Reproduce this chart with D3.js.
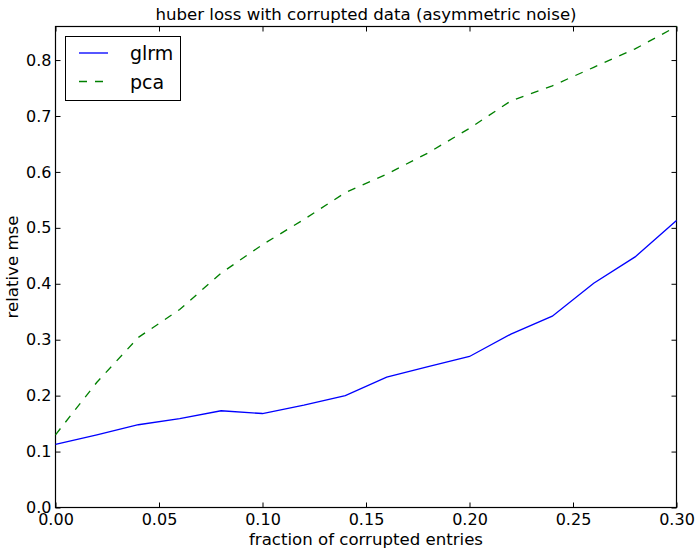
<!DOCTYPE html>
<html>
<head>
<meta charset="utf-8">
<script src="https://cdn.jsdelivr.net/npm/d3@7"></script>
<style>
  body { margin: 0; background: #fff; }
  text { font-family: "DejaVu Sans", sans-serif; fill: #000; }
</style>
</head>
<body>
<svg id="chart" width="699" height="549"></svg>
<script>
// dane
let fractions = [0, 0.02, 0.04, 0.06, 0.08, 0.10, 0.12, 0.14, 0.16, 0.18, 0.20, 0.22, 0.24, 0.26, 0.28, 0.30];
let glrm = [0.113, 0.130, 0.148, 0.159, 0.173, 0.168, 0.183, 0.200, 0.233, 0.252, 0.270, 0.310, 0.342, 0.401, 0.448, 0.513];
let pca = [0.130, 0.224, 0.304, 0.354, 0.419, 0.470, 0.515, 0.563, 0.596, 0.634, 0.678, 0.727, 0.754, 0.787, 0.820, 0.860];
let xTicks = [0, 0.05, 0.10, 0.15, 0.20, 0.25, 0.30];
let yTicks = [0, 0.1, 0.2, 0.3, 0.4, 0.5, 0.6, 0.7, 0.8];

// marginesy obszaru wykresu
let pLeft = 55.5, pRight = 676.5, pTop = 26.5, pBottom = 507.5;
let svg = d3.select("#chart");

let x = d3.scaleLinear().domain([0, 0.30]).range([pLeft, pRight]);
let y = d3.scaleLinear().domain([0, d3.max(pca)]).range([pBottom, pTop]);

// osie - tiki do środka jak w matplotlib
svg.append("g").attr("transform", "translate(0," + pBottom + ")")
    .call(d3.axisBottom(x).tickValues(xTicks).tickFormat(d3.format(".2f")).tickSizeInner(-5).tickSizeOuter(0).tickPadding(6))
svg.append("g").attr("transform", "translate(0," + pTop + ")")
    .call(d3.axisTop(x).tickValues(xTicks).tickFormat("").tickSizeInner(-5).tickSizeOuter(0))
svg.append("g").attr("transform", "translate(" + pLeft + ",0)")
    .call(d3.axisLeft(y).tickValues(yTicks).tickFormat(d3.format(".1f")).tickSizeInner(-5).tickSizeOuter(0).tickPadding(4))
svg.append("g").attr("transform", "translate(" + pRight + ",0)")
    .call(d3.axisRight(y).tickValues(yTicks).tickFormat("").tickSizeInner(-5).tickSizeOuter(0))

svg.selectAll(".domain").remove();
svg.selectAll(".tick line").attr("stroke", "#000");
svg.selectAll(".tick text").attr("font-size", 16).attr("font-family", "DejaVu Sans");

svg.append("rect")
    .attr("x", pLeft).attr("y", pTop)
    .attr("width", pRight - pLeft).attr("height", pBottom - pTop)
    .attr("fill", "none").attr("stroke", "#000").attr("stroke-width", 1.2);

// linie
let line = d3.line().x((d, i) => x(fractions[i])).y(d => y(d));
svg.append("path").datum(glrm)
    .attr("d", line).attr("fill", "none")
    .attr("stroke", "#0000ff").attr("stroke-width", 1.33);
svg.append("path").datum(pca)
    .attr("d", line).attr("fill", "none")
    .attr("stroke", "#008000").attr("stroke-width", 1.33)
    .attr("stroke-dasharray", "8,8");

// tytuł i opisy osi
svg.append("text").attr("x", (pLeft + pRight) / 2).attr("y", 20)
    .attr("text-anchor", "middle").attr("font-size", 16.6)
    .text("huber loss with corrupted data (asymmetric noise)");
svg.append("text").attr("x", (pLeft + pRight) / 2).attr("y", 545)
    .attr("text-anchor", "middle").attr("font-size", 16.6)
    .text("fraction of corrupted entries");
svg.append("text").attr("transform", "translate(18," + (pTop + pBottom) / 2 + ") rotate(-90)")
    .attr("text-anchor", "middle").attr("font-size", 16.6)
    .text("relative mse");

// legenda
let legend = svg.append("g");
legend.append("rect")
    .attr("x", 65.5).attr("y", 36.5).attr("width", 115).attr("height", 64)
    .attr("fill", "#fff").attr("stroke", "#000").attr("stroke-width", 1);
let series = [
    {name: "glrm", color: "#0000ff", dash: null},
    {name: "pca", color: "#008000", dash: "8,8"}
];
series.forEach(function(s, i){
    let cy = 53 + i * 28.5;
    legend.append("line")
        .attr("x1", 79).attr("x2", 108).attr("y1", cy).attr("y2", cy)
        .attr("stroke", s.color).attr("stroke-width", 1.33)
        .attr("stroke-dasharray", s.dash);
    legend.append("text")
        .attr("x", 130).attr("y", cy + 7)
        .attr("font-size", 19)
        .text(s.name);
});
</script>
</body>
</html>
